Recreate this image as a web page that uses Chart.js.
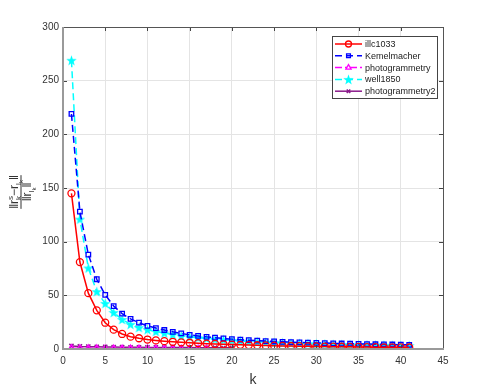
<!DOCTYPE html>
<html>
<head>
<meta charset="utf-8">
<script src="https://cdn.jsdelivr.net/npm/chart.js@4"></script>
<style>
  html, body { margin: 0; padding: 0; background: #fff; }
  #wrap { width: 491px; height: 392px; }
</style>
</head>
<body>
<div id="wrap"><canvas id="chart" width="491" height="392"></canvas></div>
<script>
// Data
const kLong = [];
for (let i = 1; i <= 41; i++) kLong.push(i);

const seriesNames = ['illc1033', 'Kemelmacher', 'photogrammetry', 'well1850', 'photogrammetry2'];

const illc1033 = [145, 81, 52, 36, 24.5, 18, 14, 11.5, 10, 8.8, 8, 7.3, 6.7, 6.2, 5.8, 5.4, 5, 4.7, 4.4, 4.1,
    3.9, 3.7, 3.5, 3.3, 3.1, 2.9, 2.8, 2.6, 2.5, 2.4, 2.3, 2.2, 2.1, 2.0, 1.9, 1.8, 1.7, 1.6, 1.6, 1.5, 1.4];
const kemelmacher = [219, 128, 88, 65, 50.5, 40, 33, 28, 24.5, 21.5, 19.5, 17.7, 16, 14.5, 13.2, 12.2, 11.3, 10.5, 9.8, 9.2,
    8.7, 8.2, 7.8, 7.4, 7.0, 6.7, 6.4, 6.1, 5.9, 5.7, 5.5, 5.3, 5.1, 4.9, 4.7, 4.6, 4.4, 4.3, 4.2, 4.0, 3.9];
const photogrammetry = [0.8, 0.7, 0.6, 0.6, 0.5, 0.5, 0.5, 0.4, 0.4, 0.4, 0.4, 0.3, 0.3, 0.3, 0.3, 0.3, 0.3];
const well1850 = [269, 121, 75.5, 53.5, 42.5, 34, 27.5, 23, 20, 18, 16.3, 14.8, 13.5, 12.4, 11.4, 10.5, 9.8, 9.1, 8.5, 8.0,
    7.5, 7.0, 6.6, 6.2, 5.9, 5.6, 5.3, 5.1, 4.9, 4.7, 4.5, 4.3, 4.1, 3.9, 3.8, 3.7, 3.6, 3.5, 3.4, 3.3, 3.2];
const photogrammetry2 = [2.8, 2.4, 2.2, 2.0, 1.9, 1.8, 1.7, 1.6, 1.6, 1.5, 1.5, 1.4, 1.4, 1.3, 1.3, 1.2, 1.2, 1.2, 1.1, 1.1];

const xTicks = [0, 5, 10, 15, 20, 25, 30, 35, 40, 45];
const yTicks = [0, 50, 100, 150, 200, 250, 300];

function toPoints(values) {
    return values.map((v, i) => ({ x: kLong[i], y: v }));
}

// filled pentagram marker, like MATLAB 'p'
function makeStar(color, size) {
    const c = document.createElement('canvas');
    c.width = size; c.height = size;
    const g = c.getContext('2d');
    const cx = size / 2, cy = size / 2 + 0.5, R = size / 2, r = R * 0.4;
    g.beginPath();
    for (let i = 0; i < 10; i++) {
        const rad = i % 2 === 0 ? R : r;
        const a = -Math.PI / 2 + i * Math.PI / 5;
        const px = cx + rad * Math.cos(a), py = cy + rad * Math.sin(a);
        if (i === 0) g.moveTo(px, py); else g.lineTo(px, py);
    }
    g.closePath();
    g.fillStyle = color;
    g.fill();
    return c;
}
const starIcon = makeStar('#00ffff', 11);

const datasets = [
    {
        label: seriesNames[0], data: toPoints(illc1033),
        borderColor: '#ff0000', borderWidth: 1.5,
        pointStyle: 'circle', pointRadius: 3.5, pointBorderWidth: 1.3,
        pointBackgroundColor: 'rgba(0,0,0,0)', pointBorderColor: '#ff0000'
    },
    {
        label: seriesNames[1], data: toPoints(kemelmacher),
        borderColor: '#0000ff', borderWidth: 1.5, borderDash: [7, 4],
        pointStyle: 'rect', pointRadius: 3.2, pointBorderWidth: 1.3,
        pointBackgroundColor: 'rgba(0,0,0,0)', pointBorderColor: '#0000ff'
    },
    {
        label: seriesNames[2], data: toPoints(photogrammetry),
        borderColor: '#ff00ff', borderWidth: 1.5, borderDash: [7, 3, 2, 3],
        pointStyle: 'triangle', pointRadius: 3.5, pointBorderWidth: 1.3,
        pointBackgroundColor: 'rgba(0,0,0,0)', pointBorderColor: '#ff00ff'
    },
    {
        label: seriesNames[3], data: toPoints(well1850),
        borderColor: '#00ffff', borderWidth: 1.5, borderDash: [7, 4],
        pointStyle: starIcon, pointRadius: 5,
        pointBackgroundColor: '#00ffff', pointBorderColor: '#00ffff'
    },
    {
        label: seriesNames[4], data: toPoints(photogrammetry2),
        borderColor: '#8b1a8b', borderWidth: 1.5,
        pointStyle: 'crossRot', pointRadius: 3, pointBorderWidth: 1.5,
        pointBackgroundColor: '#8b1a8b', pointBorderColor: '#8b1a8b'
    }
];

// pieces of the y label: [text, font size, baseline shift]
const yLabelNum = [['\u2016r', 12, 0], ['s', 8, -5], ['k', 8, 3], ['\u2212r', 12, 0], ['l', 8, 3], ['k', 6, 5], ['\u2016', 12, 0]];
const yLabelDen = [['\u2016r', 12, 0], ['l', 8, 3], ['k', 6, 5], ['\u2016', 12, 0]];

function drawPieces(ctx, pieces, cx, by) {
    const fam = 'px "Liberation Sans", Arial, sans-serif';
    let total = 0;
    const widths = pieces.map(p => {
        ctx.font = p[1] + fam;
        return ctx.measureText(p[0]).width;
    });
    // sub and superscript over each other share the same slot
    pieces.forEach((p, i) => {
        if (!(i === 2 && pieces[1][2] < 0)) total += widths[i];
    });
    let x = cx - total / 2;
    pieces.forEach((p, i) => {
        ctx.font = p[1] + fam;
        if (i === 2 && pieces[1][2] < 0) x -= widths[1];
        ctx.fillText(p[0], x, by + p[2]);
        x += widths[i];
    });
    return total;
}

// box, inside ticks, y label fraction and boxed legend
const matlabLook = {
    id: 'matlabLook',
    afterDraw(chart) {
        const ctx = chart.ctx;
        const a = chart.chartArea;
        const xs = chart.scales.x, ys = chart.scales.y;
        ctx.save();

        // inside tick marks on all four sides
        ctx.strokeStyle = '#444';
        ctx.lineWidth = 1;
        ctx.beginPath();
        xTicks.forEach(t => {
            const px = Math.round(xs.getPixelForValue(t)) + 0.5;
            ctx.moveTo(px, a.bottom); ctx.lineTo(px, a.bottom - 4);
            ctx.moveTo(px, a.top); ctx.lineTo(px, a.top + 4);
        });
        yTicks.forEach(t => {
            const py = Math.round(ys.getPixelForValue(t)) + 0.5;
            ctx.moveTo(a.left, py); ctx.lineTo(a.left + 4, py);
            ctx.moveTo(a.right, py); ctx.lineTo(a.right - 4, py);
        });
        ctx.stroke();

        // box
        ctx.strokeStyle = '#555';
        ctx.beginPath();
        ctx.moveTo(a.left, a.top + 0.5); ctx.lineTo(a.right + 0.5, a.top + 0.5); ctx.lineTo(a.right + 0.5, a.bottom);
        ctx.stroke();
        ctx.strokeStyle = '#9a9a9a';
        ctx.lineWidth = 2;
        ctx.beginPath();
        ctx.moveTo(a.left, a.top); ctx.lineTo(a.left, a.bottom); ctx.lineTo(a.right + 1, a.bottom);
        ctx.stroke();

        // y axis label: ||r_k^s - r_lk|| / ||r_lk||
        ctx.translate(22, 192);
        ctx.rotate(-Math.PI / 2);
        ctx.fillStyle = '#333';
        ctx.textAlign = 'left';
        ctx.textBaseline = 'alphabetic';
        const w = drawPieces(ctx, yLabelNum, 0, -4);
        ctx.fillRect(-w / 2, -1.5, w, 1);
        drawPieces(ctx, yLabelDen, 0, 9);
        ctx.setTransform(1, 0, 0, 1, 0, 0);

        // legend
        const lx = 332, ly = 36, lw = 105, lh = 62;
        ctx.fillStyle = '#fff';
        ctx.fillRect(lx, ly, lw, lh);
        ctx.strokeStyle = '#444';
        ctx.lineWidth = 1;
        ctx.strokeRect(lx + 0.5, ly + 0.5, lw, lh);
        ctx.font = '9px "Liberation Sans", Arial, sans-serif';
        ctx.textAlign = 'left';
        ctx.textBaseline = 'middle';
        chart.data.datasets.forEach((ds, i) => {
            const y = ly + 8 + i * 11.8;
            ctx.strokeStyle = ds.borderColor;
            ctx.lineWidth = 1.5;
            ctx.setLineDash(ds.borderDash || []);
            ctx.beginPath();
            ctx.moveTo(lx + 3, y); ctx.lineTo(lx + 30, y);
            ctx.stroke();
            ctx.setLineDash([]);
            ctx.lineWidth = ds.pointBorderWidth || 1.3;
            ctx.fillStyle = ds.pointBackgroundColor;
            Chart.helpers.drawPoint(ctx, {
                pointStyle: ds.pointStyle,
                radius: ds.pointRadius - (i === 3 ? 0 : 0.5),
                borderWidth: ds.pointBorderWidth || 1.3,
                rotation: 0
            }, lx + 16.5, y);
            if (ds.pointBackgroundColor !== 'rgba(0,0,0,0)' && typeof ds.pointStyle === 'string') ctx.fill();
            ctx.fillStyle = '#222';
            ctx.fillText(ds.label, lx + 33, y + 0.5);
        });
        ctx.restore();
    }
};

new Chart(document.getElementById('chart'), {
    type: 'line',
    data: { datasets: datasets },
    options: {
        responsive: false,
        animation: false,
        layout: { padding: { left: 0, right: 48, top: 27, bottom: 0 } },
        plugins: {
            legend: { display: false },
            tooltip: { enabled: false }
        },
        elements: { line: { tension: 0 } },
        scales: {
            x: {
                type: 'linear', min: 0, max: 45,
                afterFit: s => { s.height = 43; },
                afterBuildTicks: s => { s.ticks = xTicks.map(v => ({ value: v })); },
                grid: { color: '#e4e4e4', drawTicks: false },
                border: { display: false },
                ticks: { padding: 6, color: '#333', font: { family: '"Liberation Sans", Arial', size: 10 }, maxRotation: 0 },
                title: { display: true, text: 'k', color: '#333', font: { family: '"Liberation Sans", Arial', size: 14 }, padding: { top: 0, bottom: 3 } }
            },
            y: {
                type: 'linear', min: 0, max: 300,
                afterFit: s => { s.width = 63; },
                afterBuildTicks: s => { s.ticks = yTicks.map(v => ({ value: v })); },
                grid: { color: '#e4e4e4', drawTicks: false },
                border: { display: false },
                ticks: { padding: 4, color: '#333', font: { family: '"Liberation Sans", Arial', size: 10 } }
            }
        }
    },
    plugins: [matlabLook]
});
</script>
</body>
</html>
